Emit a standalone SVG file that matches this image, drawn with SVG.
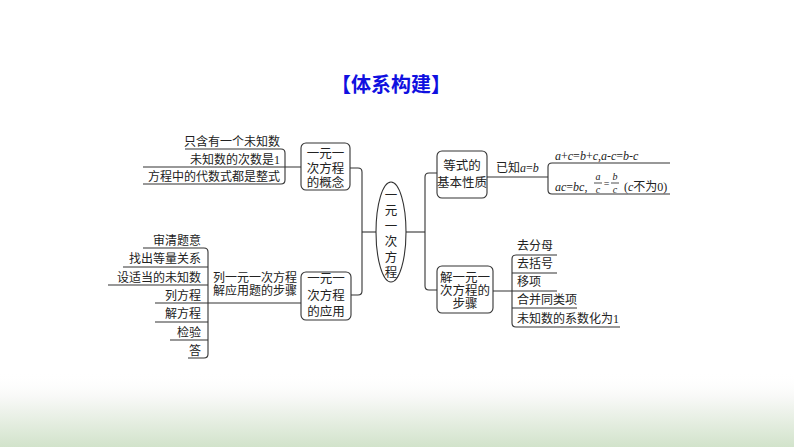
<svg xmlns="http://www.w3.org/2000/svg" width="794" height="447" viewBox="0 0 794 447">
<style>
.t{font-family:"Liberation Serif","Noto Sans CJK SC",serif;font-size:12px;fill:#222}
.f{font-family:"Liberation Serif",serif;font-size:10px;fill:#222;text-anchor:middle}
.b{font-family:"Liberation Serif","Noto Sans CJK SC",serif;font-size:12.5px;fill:#222;text-anchor:middle}
.e{text-anchor:end}
.i{font-style:italic}
.ln{fill:none;stroke:#333;stroke-width:1.1}
.box{fill:#fff;stroke:#333;stroke-width:1.1}
.title{font-family:"Noto Sans CJK SC","Liberation Sans",sans-serif;font-size:20px;font-weight:bold;fill:#1010e0;text-anchor:middle}
</style>
<defs>
<linearGradient id="bg" x1="0" y1="0" x2="0" y2="1">
<stop offset="0" stop-color="#ffffff" stop-opacity="0"/>
<stop offset="0.35" stop-color="#f7f8f6"/>
<stop offset="1" stop-color="#d2e3cb"/>
</linearGradient>
</defs>
<rect x="0" y="0" width="794" height="447" fill="#fff"/>
<rect x="0" y="372" width="794" height="75" fill="url(#bg)"/>
<text class="title" x="391" y="92">【体系构建】</text>

<g id="connectors">
<path class="ln" d="M185,149 H281 Q285,149 285,153 V180 Q285,184 281,184 H143"/>
<path class="ln" d="M143,167 H301"/>
<path class="ln" d="M350,168 H358 Q362,168 362,172 V291 Q362,295 358,295 H351"/>
<path class="ln" d="M362,232 H376"/>
<path class="ln" d="M143,248 H204 Q208,248 208,252 V354 Q208,358 204,358 H188"/>
<path class="ln" d="M123,267 H208 M108,285 H208 M155,303 H301 M155,322 H208 M170,340 H208"/>
<path class="ln" d="M406,232 H425"/>
<path class="ln" d="M437,173 H429 Q425,173 425,177 V286 Q425,290 429,290 H437"/>
<path class="ln" d="M670,163 H552 Q548,163 548,167 V190 Q548,194 552,194 H670"/>
<path class="ln" d="M487,177 H548"/>
<path class="ln" d="M557,255 H516 Q512,255 512,259 V323 Q512,327 516,327 H620"/>
<path class="ln" d="M512,273 H557 M493,291 H557 M512,308 H577"/>
</g>

<g id="leaf-concept">
<text class="t e" x="280" y="145.5">只含有一个未知数</text>
<text class="t e" x="280" y="163.5">未知数的次数是1</text>
<text class="t e" x="280" y="180.5">方程中的代数式都是整式</text>
</g>

<g id="node-concept">
<rect class="box" x="301" y="143" width="49" height="47" rx="5"/>
<text class="b" x="325.5" y="157.5">一元一</text>
<text class="b" x="325.5" y="172.5">次方程</text>
<text class="b" x="325.5" y="187">的概念</text>
</g>

<g id="node-center">
<ellipse cx="391" cy="232" rx="15" ry="50" fill="#fff" stroke="#333" stroke-width="1.1"/>
<text class="b" x="391" y="199.5">一</text>
<text class="b" x="391" y="215">元</text>
<text class="b" x="391" y="230.5">一</text>
<text class="b" x="391" y="246">次</text>
<text class="b" x="391" y="261.5">方</text>
<text class="b" x="391" y="277">程</text>
</g>

<g id="leaf-steps-apply">
<text class="t e" x="201" y="244.5">审清题意</text>
<text class="t e" x="201" y="263">找出等量关系</text>
<text class="t e" x="201" y="281.5">设适当的未知数</text>
<text class="t e" x="201" y="299.5">列方程</text>
<text class="t e" x="201" y="318">解方程</text>
<text class="t e" x="201" y="336.5">检验</text>
<text class="t e" x="201" y="354.5">答</text>
</g>

<g id="label-apply">
<text class="t" x="213" y="281.5">列一元一次方程</text>
<text class="t" x="213" y="295">解应用题的步骤</text>
</g>

<g id="node-apply">
<rect class="box" x="301" y="272" width="50" height="48" rx="5"/>
<text class="b" x="326" y="283">一元一</text>
<text class="b" x="326" y="299.5">次方程</text>
<text class="b" x="326" y="315.5">的应用</text>
</g>

<g id="node-property">
<rect class="box" x="437" y="151" width="50" height="47" rx="5"/>
<text class="b" x="462" y="169.5">等式的</text>
<text class="b" x="462" y="186.5">基本性质</text>
</g>

<g id="leaf-property">
<text class="t" x="496" y="171.5">已知<tspan class="i">a</tspan>=<tspan class="i">b</tspan></text>
<text class="t" x="555" y="160"><tspan class="i">a</tspan>+<tspan class="i">c</tspan>=<tspan class="i">b</tspan>+<tspan class="i">c</tspan>,<tspan class="i">a</tspan>-<tspan class="i">c</tspan>=<tspan class="i">b</tspan>-<tspan class="i">c</tspan></text>
<text class="t" x="555" y="191"><tspan class="i">ac</tspan>=<tspan class="i">bc</tspan>,</text>
<text class="f i" x="598" y="180">a</text>
<line x1="594" y1="183" x2="602" y2="183" stroke="#222" stroke-width="0.8"/>
<text class="f i" x="598" y="193">c</text>
<text class="f" x="606.5" y="187">=</text>
<text class="f i" x="615" y="180">b</text>
<line x1="611" y1="183" x2="619" y2="183" stroke="#222" stroke-width="0.8"/>
<text class="f i" x="615" y="193">c</text>
<text class="t" x="624" y="191">(<tspan class="i">c</tspan>不为0)</text>
</g>

<g id="node-solve">
<rect class="box" x="437" y="266" width="56" height="47" rx="5"/>
<text class="b" x="465" y="281.5">解一元一</text>
<text class="b" x="465" y="294.5">次方程的</text>
<text class="b" x="465" y="307.5">步骤</text>
</g>

<g id="leaf-solve">
<text class="t" x="517" y="249.5">去分母</text>
<text class="t" x="517" y="267.5">去括号</text>
<text class="t" x="517" y="286">移项</text>
<text class="t" x="517" y="304">合并同类项</text>
<text class="t" x="517" y="322.5">未知数的系数化为1</text>
</g>
</svg>
